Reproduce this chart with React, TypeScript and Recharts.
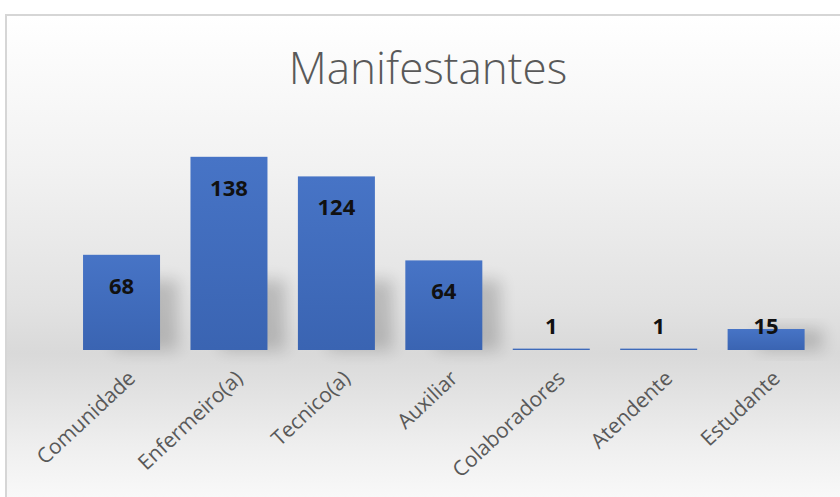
import React from 'react';
import { BarChart, Bar, XAxis, YAxis, LabelList } from 'recharts';

const categories = ['Comunidade', 'Enfermeiro(a)', 'Tecnico(a)', 'Auxiliar', 'Colaboradores', 'Atendente', 'Estudante'];
const values = [68, 138, 124, 64, 1, 1, 15];
const chartTitle = 'Manifestantes';

const data = categories.map((name, i) => ({ name, value: values[i] }));

const ValueLabel = (props: any) => {
  const { x, y, width, height, value } = props;
  const base = y + height;
  const ly = Math.min(y + 30, base - 25);
  return (
    <text
      x={x + width / 2}
      y={ly}
      textAnchor="middle"
      dominantBaseline="central"
      fontFamily="'Open Sans', sans-serif"
      fontWeight={700}
      fontSize={22}
      fill="#111"
    >
      {value}
    </text>
  );
};

const BarShape = (props: any) => {
  const { x, y, width, height } = props;
  const sh = Math.min(height, 70);
  return (
    <g>
      {height > 20 && (
        <rect
          x={x + width * 0.4}
          y={y + height - sh}
          width={width * 0.6 + 18}
          height={sh}
          fill="#000"
          opacity={0.18}
          filter="url(#barShadow)"
        />
      )}
      <rect x={x} y={y} width={width} height={Math.max(height, 1)} fill="url(#barGrad)" />
    </g>
  );
};

const AxisTick = (props: any) => {
  const { x, y, payload } = props;
  return (
    <g transform={`translate(${x + 15},${y + 22})`}>
      <text
        x={0}
        y={0}
        textAnchor="end"
        transform="rotate(-43)"
        fontFamily="'Open Sans', sans-serif"
        fontSize={21}
        fill="#595959"
      >
        {payload.value}
      </text>
    </g>
  );
};

export default function App() {
  return (
    <div style={{ position: 'absolute', left: 0, top: 0, width: 840, height: 497, background: '#fff', overflow: 'hidden' }}>
      <div
        style={{
          position: 'absolute',
          left: 5,
          top: 14,
          width: 850,
          height: 500,
          border: '2px solid #d6d6d6',
          boxSizing: 'border-box',
          background: 'linear-gradient(to bottom, #ffffff 0%, #f2f2f2 30%, #e2e2e2 58%, #d9d9d9 68%, #f0f0f0 88%, #fbfbfb 100%)',
        }}
      />
      <div
        style={{
          position: 'absolute',
          left: 0,
          top: 37,
          width: 856,
          textAlign: 'center',
          fontFamily: "'Open Sans', sans-serif",
          fontWeight: 300,
          fontSize: 44,
          color: '#595959',
          lineHeight: '60px',
        }}
      >
        {chartTitle}
      </div>
      <div style={{ position: 'absolute', left: 0, top: 0 }}>
        <BarChart
          width={840}
          height={497}
          data={data}
          margin={{ top: 126, right: 20, bottom: 7, left: 68 }}
          barCategoryGap="14%"
        >
          <defs>
            <linearGradient id="barGrad" x1="0" y1="0" x2="0" y2="1">
              <stop offset="0%" stopColor="#4774c6" />
              <stop offset="100%" stopColor="#3a64b2" />
            </linearGradient>
            <filter id="barShadow" x="-50%" y="-50%" width="200%" height="200%">
              <feGaussianBlur stdDeviation="8" />
            </filter>
          </defs>
          <XAxis
            dataKey="name"
            axisLine={false}
            tickLine={false}
            interval={0}
            height={140}
            tick={<AxisTick />}
          />
          <YAxis hide domain={[0, 160]} />
          <Bar dataKey="value" isAnimationActive={false} shape={<BarShape />}>
            <LabelList dataKey="value" content={<ValueLabel />} />
          </Bar>
        </BarChart>
      </div>
    </div>
  );
}
